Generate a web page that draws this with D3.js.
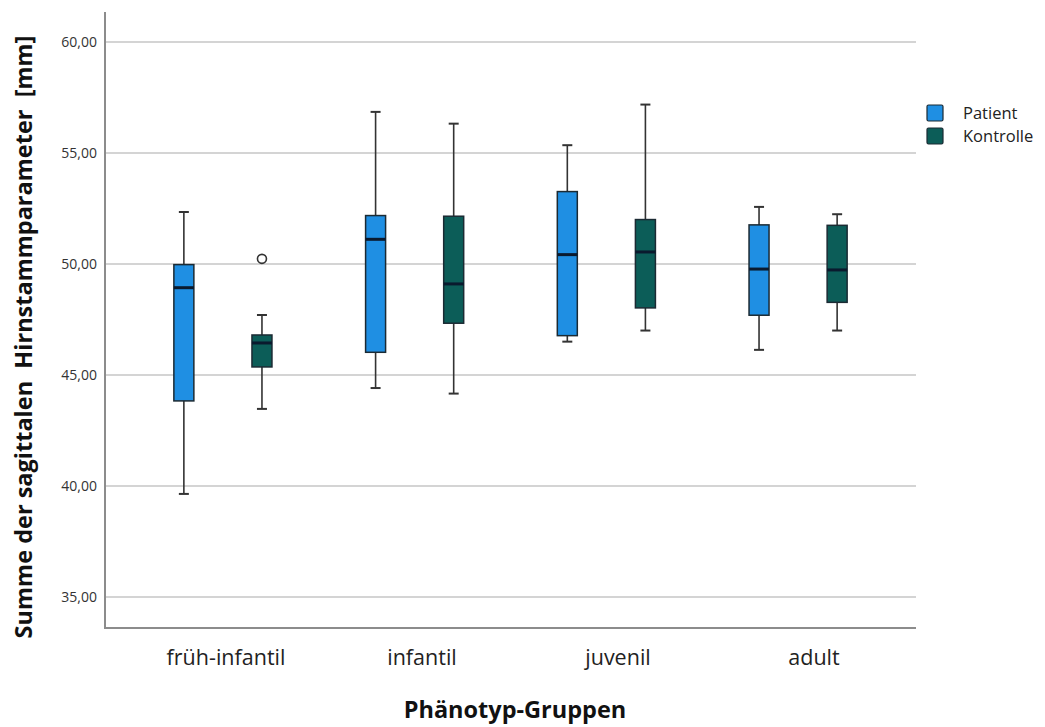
<!DOCTYPE html>
<html>
<head>
<meta charset="utf-8">
<script src="https://cdn.jsdelivr.net/npm/d3@7"></script>
<style>
  html, body { margin: 0; padding: 0; background: #fff; }
  svg { display: block; font-family: "Open Sans", "Noto Sans", sans-serif; }
</style>
</head>
<body>
<svg id="chart" width="1045" height="727"></svg>
<script>
// Phenotype groups and the two compared series
const groups = ["früh-infantil", "infantil", "juvenil", "adult"];
const series = ["Patient", "Kontrolle"];
const yTicks = [35, 40, 45, 50, 55, 60];

// Five-number summaries per group: [lower whisker, Q1, median, Q3, upper whisker]
const patientStats = [
  [39.64, 43.83, 48.93, 49.97, 52.34],
  [44.41, 46.02, 51.11, 52.18, 56.85],
  [46.50, 46.77, 50.42, 53.26, 55.35],
  [46.13, 47.69, 49.77, 51.76, 52.57]
];
const kontrolleStats = [
  [43.47, 45.36, 46.44, 46.80, 47.70],
  [44.16, 47.33, 49.10, 52.15, 56.32],
  [47.00, 48.02, 50.54, 52.00, 57.18],
  [47.00, 48.27, 49.73, 51.74, 52.24]
];
// Outliers: [group, series, value]
const outliers = [
  ["früh-infantil", "Kontrolle", 50.23]
];

const colors = { "Patient": "#1f8fe3", "Kontrolle": "#0c5d58" };

const svg = d3.select("#chart");
const plotLeft = 105, plotRight = 916, plotTop = 12, plotBottom = 628;

const y = d3.scaleLinear().domain([33.6, 61.35]).range([plotBottom, plotTop]);
const x = d3.scaleBand().domain(groups).range([plotLeft, plotRight]).paddingOuter(0.115).paddingInner(0);
const xs = d3.scaleBand().domain(series).range([0, x.bandwidth()]).paddingInner(0).paddingOuter(0.2275);
const labelX = d3.scaleBand().domain(groups).range([128, 912]);
const boxW = 20, capW = 10;

// horizontal gridlines
svg.append("g")
  .selectAll("line").data(yTicks).join("line")
  .attr("x1", plotLeft).attr("x2", plotRight)
  .attr("y1", d => y(d)).attr("y2", d => y(d))
  .attr("stroke", "#c6c6c6").attr("stroke-width", 1.5);

// y axis
const yAxis = d3.axisLeft(y).tickValues(yTicks).tickSize(0).tickPadding(8)
  .tickFormat(d => d3.format(".2f")(d).replace(".", ","));
const gy = svg.append("g").attr("transform", `translate(${plotLeft},0)`).call(yAxis);
gy.select(".domain").remove();
gy.selectAll("text").attr("font-size", 14).attr("fill", "#333")
  .attr("font-family", "'Open Sans', sans-serif");

// axis lines
svg.append("line").attr("x1", plotLeft).attr("x2", plotLeft).attr("y1", plotTop).attr("y2", plotBottom)
  .attr("stroke", "#8c8c8c").attr("stroke-width", 2);
svg.append("line").attr("x1", plotLeft - 1).attr("x2", plotRight).attr("y1", plotBottom).attr("y2", plotBottom)
  .attr("stroke", "#8c8c8c").attr("stroke-width", 2);

// x category labels
svg.append("g").selectAll("text").data(groups).join("text")
  .attr("x", d => labelX(d) + labelX.bandwidth() / 2)
  .attr("y", 665)
  .attr("text-anchor", "middle")
  .attr("font-size", 21.5).attr("fill", "#222")
  .text(d => d);

// axis titles
svg.append("text")
  .attr("x", 515).attr("y", 718)
  .attr("text-anchor", "middle")
  .attr("font-size", 23.5).attr("font-weight", "bold").attr("fill", "#111")
  .text("Phänotyp-Gruppen");
svg.append("text")
  .attr("transform", `translate(32,337) rotate(-90)`)
  .attr("text-anchor", "middle")
  .attr("font-size", 23.5).attr("font-weight", "bold").attr("fill", "#111")
  .style("white-space", "pre")
  .text("Summe der sagittalen  Hirnstammparameter  [mm]");

// box plots
const boxes = [];
groups.forEach((g, i) => {
  boxes.push({ group: g, series: "Patient", s: patientStats[i] });
  boxes.push({ group: g, series: "Kontrolle", s: kontrolleStats[i] });
});
const cx = d => x(d.group) + xs(d.series) + xs.bandwidth() / 2;

const bg = svg.append("g").selectAll("g").data(boxes).join("g");
// whiskers
bg.append("line")
  .attr("x1", cx).attr("x2", cx)
  .attr("y1", d => y(d.s[0])).attr("y2", d => y(d.s[1]))
  .attr("stroke", "#333").attr("stroke-width", 1.6);
bg.append("line")
  .attr("x1", cx).attr("x2", cx)
  .attr("y1", d => y(d.s[3])).attr("y2", d => y(d.s[4]))
  .attr("stroke", "#333").attr("stroke-width", 1.6);
// caps
[0, 4].forEach(k => {
  bg.append("line")
    .attr("x1", d => cx(d) - capW / 2).attr("x2", d => cx(d) + capW / 2)
    .attr("y1", d => y(d.s[k])).attr("y2", d => y(d.s[k]))
    .attr("stroke", "#333").attr("stroke-width", 2);
});
// box
bg.append("rect")
  .attr("x", d => cx(d) - boxW / 2).attr("width", boxW)
  .attr("y", d => y(d.s[3])).attr("height", d => y(d.s[1]) - y(d.s[3]))
  .attr("fill", d => colors[d.series])
  .attr("stroke", "#1b2a33").attr("stroke-width", 1.5);
// median
bg.append("line")
  .attr("x1", d => cx(d) - boxW / 2).attr("x2", d => cx(d) + boxW / 2)
  .attr("y1", d => y(d.s[2])).attr("y2", d => y(d.s[2]))
  .attr("stroke", "#0a1a2e").attr("stroke-width", 3);

// outliers
svg.append("g").selectAll("circle").data(outliers).join("circle")
  .attr("cx", d => x(d[0]) + xs(d[1]) + xs.bandwidth() / 2)
  .attr("cy", d => y(d[2]))
  .attr("r", 4.5)
  .attr("fill", "#fff").attr("stroke", "#333").attr("stroke-width", 1.6);

// legend
const lg = svg.append("g").attr("transform", "translate(927,105)");
const li = lg.selectAll("g").data(series).join("g")
  .attr("transform", (d, i) => `translate(0,${i * 23})`);
li.append("rect").attr("width", 16).attr("height", 16).attr("rx", 1.5)
  .attr("fill", d => colors[d]).attr("stroke", "#1b2a33").attr("stroke-width", 1.2);
li.append("text").attr("x", 36).attr("y", 8).attr("dy", "0.35em")
  .attr("font-size", 16.5).attr("fill", "#222").text(d => d);
</script>
</body>
</html>
